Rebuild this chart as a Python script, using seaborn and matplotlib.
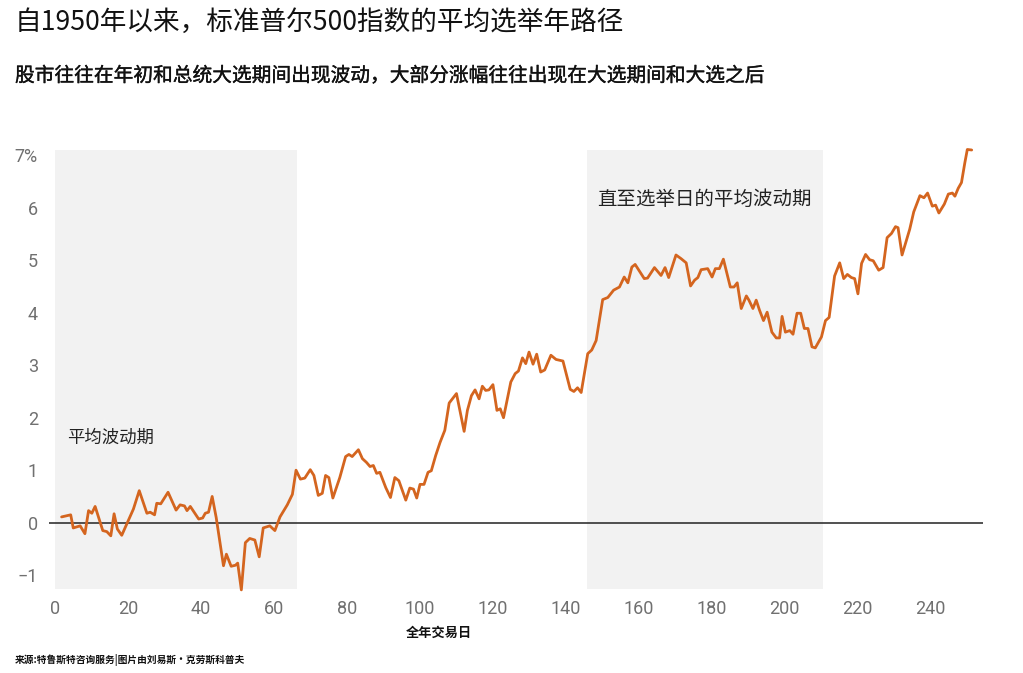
import matplotlib
matplotlib.use("Agg")
import matplotlib.pyplot as plt
import matplotlib.patheffects as pe
import seaborn as sns
import pandas as pd

# ---------------- data ----------------
days = [1.8, 4.3, 5.0, 6.9, 8.2, 9.2, 10.1, 11.0, 13.1, 14.2, 15.3, 16.2, 17.1, 18.3,
        20.1, 21.5, 23.1, 25.2, 26.1, 27.3, 27.9, 29.0, 31.0, 33.2, 34.3, 35.5, 36.2,
        37.1, 39.4, 40.5, 41.2, 42.1, 43.1, 44.2, 46.2, 47.0, 48.3, 49.5, 50.1, 51.1,
        52.2, 53.4, 54.8, 56.0, 57.1, 58.9, 60.3, 61.7, 63.7, 65.1, 66.1, 67.3, 68.5,
        70.0, 71.0, 72.2, 73.3, 74.2, 75.1, 76.2, 78.1, 79.7, 80.6, 81.5, 83.2, 84.3,
        85.4, 86.4, 87.3, 88.2, 89.1, 90.7, 92.0, 93.2, 94.3, 96.2, 97.3, 98.3, 99.2,
        100.1, 101.2, 102.3, 103.2, 104.4, 105.6, 106.9, 108.1, 109.0, 110.1, 112.2,
        113.1, 114.2, 115.2, 116.3, 117.2, 118.1, 119.0, 120.1, 121.2, 122.1, 123.0,
        125.0, 126.2, 127.1, 128.2, 129.1, 130.0, 131.1, 132.1, 133.2, 134.3, 136.0,
        137.4, 139.3, 141.3, 142.3, 143.3, 144.3, 146.1, 147.2, 148.4, 150.2, 151.6,
        153.2, 154.8, 156.1, 157.1, 158.2, 159.1, 161.6, 162.5, 164.4, 166.2, 167.3,
        168.3, 170.3, 171.7, 173.1, 174.3, 175.4, 176.3, 177.2, 179.0, 180.2, 181.1,
        182.2, 183.3, 185.2, 186.2, 187.1, 188.2, 189.6, 190.3, 191.4, 192.3, 193.2,
        194.3, 195.3, 196.6, 197.8, 198.7, 199.4, 200.3, 201.5, 202.4, 203.5, 204.5,
        205.5, 206.5, 207.6, 208.5, 210.2, 211.3, 212.3, 213.8, 215.2, 216.3, 217.3,
        218.4, 219.3, 220.2, 221.2, 222.3, 223.4, 224.4, 225.9, 227.1, 228.2, 229.4,
        230.5, 231.2, 232.3, 233.5, 234.4, 235.5, 237.2, 238.3, 239.3, 240.6, 241.5,
        242.4, 243.9, 245.0, 246.1, 246.8, 247.7, 248.6, 249.5, 250.2, 251.4]
avg_return = [0.11, 0.15, -0.10, -0.06, -0.21, 0.23, 0.18, 0.31, -0.15, -0.17, -0.25, 0.17,
              -0.12, -0.24, 0.04, 0.26, 0.61, 0.18, 0.20, 0.15, 0.37, 0.36, 0.58, 0.24, 0.34,
              0.32, 0.23, 0.31, 0.07, 0.09, 0.18, 0.20, 0.50, 0.10, -0.82, -0.60, -0.83,
              -0.81, -0.77, -1.28, -0.38, -0.30, -0.33, -0.65, -0.10, -0.06, -0.15, 0.11,
              0.34, 0.54, 1.00, 0.83, 0.85, 1.01, 0.90, 0.52, 0.56, 0.90, 0.86, 0.47, 0.86,
              1.26, 1.30, 1.26, 1.39, 1.22, 1.15, 1.07, 1.09, 0.94, 0.96, 0.67, 0.48, 0.86,
              0.80, 0.43, 0.66, 0.64, 0.47, 0.73, 0.73, 0.96, 0.99, 1.28, 1.53, 1.76, 2.28,
              2.36, 2.46, 1.74, 2.14, 2.42, 2.53, 2.36, 2.60, 2.52, 2.53, 2.63, 2.14, 2.17,
              2.00, 2.68, 2.84, 2.89, 3.14, 3.03, 3.25, 3.02, 3.21, 2.87, 2.91, 3.19, 3.11,
              3.08, 2.54, 2.50, 2.57, 2.48, 3.22, 3.29, 3.47, 4.25, 4.29, 4.43, 4.49, 4.68,
              4.57, 4.87, 4.92, 4.65, 4.66, 4.86, 4.71, 4.86, 4.67, 5.10, 5.03, 4.95, 4.51,
              4.62, 4.67, 4.82, 4.84, 4.68, 4.84, 4.84, 5.02, 4.49, 4.49, 4.57, 4.08, 4.32,
              4.24, 4.08, 4.24, 4.05, 3.85, 4.01, 3.63, 3.52, 3.52, 3.93, 3.63, 3.66, 3.59,
              3.99, 3.99, 3.70, 3.70, 3.35, 3.33, 3.54, 3.85, 3.91, 4.70, 4.95, 4.65, 4.73,
              4.67, 4.65, 4.36, 4.94, 5.11, 5.01, 4.99, 4.81, 4.86, 5.43, 5.51, 5.64, 5.62,
              5.10, 5.38, 5.59, 5.92, 6.23, 6.19, 6.28, 6.03, 6.05, 5.90, 6.07, 6.26, 6.28,
              6.22, 6.37, 6.48, 6.85, 7.11, 7.10]

volatile_periods = [(0, 66.5), (146, 210.7)]
period_labels = ["平均波动期", "直至选举日的平均波动期"]
xticks = list(range(0, 241, 20))
yticks = [-1, 0, 1, 2, 3, 4, 5, 6, 7]
ytick_labels = ["−1", "0", "1", "2", "3", "4", "5", "6", "7%"]

title = "自1950年以来，标准普尔500指数的平均选举年路径"
subtitle = "股市往往在年初和总统大选期间出现波动，大部分涨幅往往出现在大选期间和大选之后"
xlabel = "全年交易日"
source = "来源:特鲁斯特咨询服务|图片由刘易斯・克劳斯科普夫"

# ---------------- style ----------------
sns.set_theme(style="white")
plt.rcParams["font.family"] = ["Noto Sans CJK SC", "DejaVu Sans"]
plt.rcParams["axes.unicode_minus"] = True

fig = plt.figure(figsize=(10.23, 6.73), dpi=100)
ax = fig.add_axes([49 / 1023, 1 - 589 / 673, (983 - 49) / 1023, (589 - 150) / 673])

for x0, x1 in volatile_periods:
    ax.axvspan(x0, x1, color="#f2f2f2", lw=0, zorder=0)

ax.axhline(0, color="#222222", lw=1.1, zorder=2)

df = pd.DataFrame({"day": days, "ret": avg_return})
sns.lineplot(data=df, x="day", y="ret", ax=ax, color="#d4651f", lw=2.0,
             estimator=None, sort=False, zorder=3, clip_on=False)

ax.set_xlim(-1.65, 254.5)
ax.set_ylim(-1.263, 7.10)
ax.set_xticks(xticks)
ax.set_xticklabels([str(t) for t in xticks])
ax.set_yticks(yticks)
ax.set_yticklabels(ytick_labels)
ax.tick_params(axis="both", length=0, labelsize=13, labelcolor="#707070")
ax.tick_params(axis="x", pad=8)
ax.tick_params(axis="y", pad=8)
for lab in ax.get_xticklabels() + ax.get_yticklabels():
    lab.set_family(["Roboto", "DejaVu Sans"])
    lab.set_fontweight("normal")
for s in ax.spines.values():
    s.set_visible(False)
ax.set_xlabel("")
ax.set_ylabel("")

ax.text(3.3, 1.61, period_labels[0], fontsize=12.5, color="#222222", va="center", ha="left")
ax.text(148.7, 6.15, period_labels[1], fontsize=14, color="#222222", va="center", ha="left")

fig.text(15 / 1023, 1 - 22 / 673, title, fontsize=19.2, color="#111111", va="center", ha="left")
fig.text(15 / 1023, 1 - 76 / 673, subtitle, fontsize=14.2, color="#111111",
         va="center", ha="left",
         path_effects=[pe.withStroke(linewidth=0.25, foreground="#111111")])
fig.text(439 / 1023, 1 - 633 / 673, xlabel, fontsize=9.5, fontweight="bold", color="#111111",
         va="center", ha="center")
fig.text(15 / 1023, 1 - 660 / 673, source, fontsize=7, fontweight="bold", color="#111111",
         va="center", ha="left")

fig.savefig("out.png", dpi=100)
